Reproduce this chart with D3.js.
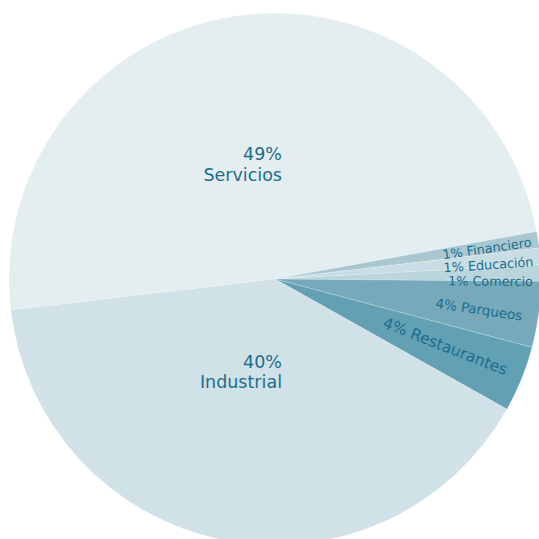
<!DOCTYPE html>
<html>
<head>
<meta charset="utf-8">
<script src="https://cdn.jsdelivr.net/npm/d3@7"></script>
<style>
  html, body { margin: 0; padding: 0; background: #ffffff; }
  svg { display: block; }
</style>
</head>
<body>
<svg id="chart" width="539" height="539"></svg>
<script>
// Sectors, listed clockwise from the top-left large slice
const categories = ["Servicios", "Financiero", "Educación", "Comercio", "Parqueos", "Restaurantes", "Industrial"];
const values     = [49, 1, 1, 1, 4, 4, 40];
const colors     = ["#e4eef1", "#a8c7d1", "#c8dde4", "#bbd5dd", "#76aabb", "#62a0b3", "#d0e1e7"];

// Label placement per sector: radius along the slice, angular nudge (deg) and font size
const labelStyle = {
  "Servicios":    { r: 115, size: 17.5, big: true },
  "Industrial":   { r: 96,  size: 17.5, big: true },
  "Financiero":   { r: 259, nudge: 0.3, size: 12.8 },
  "Educación":    { r: 259, nudge: 1.1, size: 12.8 },
  "Comercio":     { r: 258, nudge: 1.9, size: 12.8 },
  "Parqueos":     { r: 250, nudge: 0.8, size: 13.5 },
  "Restaurantes": { r: 249, nudge: -0.6, size: 15.5 }
};

const width = 539, height = 539;
const cx = 275, cy = 279, radius = 266;
const textColor = "#1c6d8c";
const deg = Math.PI / 180;

const svg = d3.select("#chart");
const g = svg.append("g").attr("transform", `translate(${cx},${cy})`);

const rows = categories.map((c, i) => ({ name: c, value: values[i], color: colors[i] }));

const pie = d3.pie()
  .sort(null)
  .value(d => d.value)
  .startAngle(-96.7 * deg)
  .endAngle(-96.7 * deg + 2 * Math.PI);

const arcs = pie(rows);
const arc = d3.arc().innerRadius(0).outerRadius(radius);

g.selectAll("path.slice")
  .data(arcs)
  .join("path")
  .attr("class", "slice")
  .attr("d", arc)
  .attr("fill", d => d.data.color)
  .attr("stroke", "#ffffff")
  .attr("stroke-opacity", 0.35)
  .attr("stroke-width", 0.6);

const font = "'DejaVu Sans', 'Liberation Sans', sans-serif";

// Large sectors: two-line labels, right-aligned just right of the centre
arcs.filter(d => labelStyle[d.data.name].big).forEach(d => {
  const st = labelStyle[d.data.name];
  const mid = (d.startAngle + d.endAngle) / 2;
  const y = -st.r * Math.cos(mid);
  const t = g.append("text")
    .attr("y", y)
    .attr("text-anchor", "end")
    .attr("fill", textColor)
    .style("font-family", font)
    .style("font-size", st.size + "px");
  t.append("tspan").attr("x", 7).attr("dy", "-0.3em").text(d.value + "%");
  t.append("tspan").attr("x", 7).attr("dy", "1.17em").text(d.data.name);
});

// Narrow sectors: single-line labels along the slice direction
arcs.filter(d => !labelStyle[d.data.name].big).forEach(d => {
  const st = labelStyle[d.data.name];
  const mid = (d.startAngle + d.endAngle) / 2 + (st.nudge || 0) * deg;
  const x = st.r * Math.sin(mid), y = -st.r * Math.cos(mid);
  const rot = mid / deg - 90;
  g.append("text")
    .attr("transform", `translate(${x},${y}) rotate(${rot})`)
    .attr("text-anchor", "end")
    .attr("dy", "0.35em")
    .attr("fill", textColor)
    .style("font-family", font)
    .style("font-size", st.size + "px")
    .text(d.value + "% " + d.data.name);
});
</script>
</body>
</html>
